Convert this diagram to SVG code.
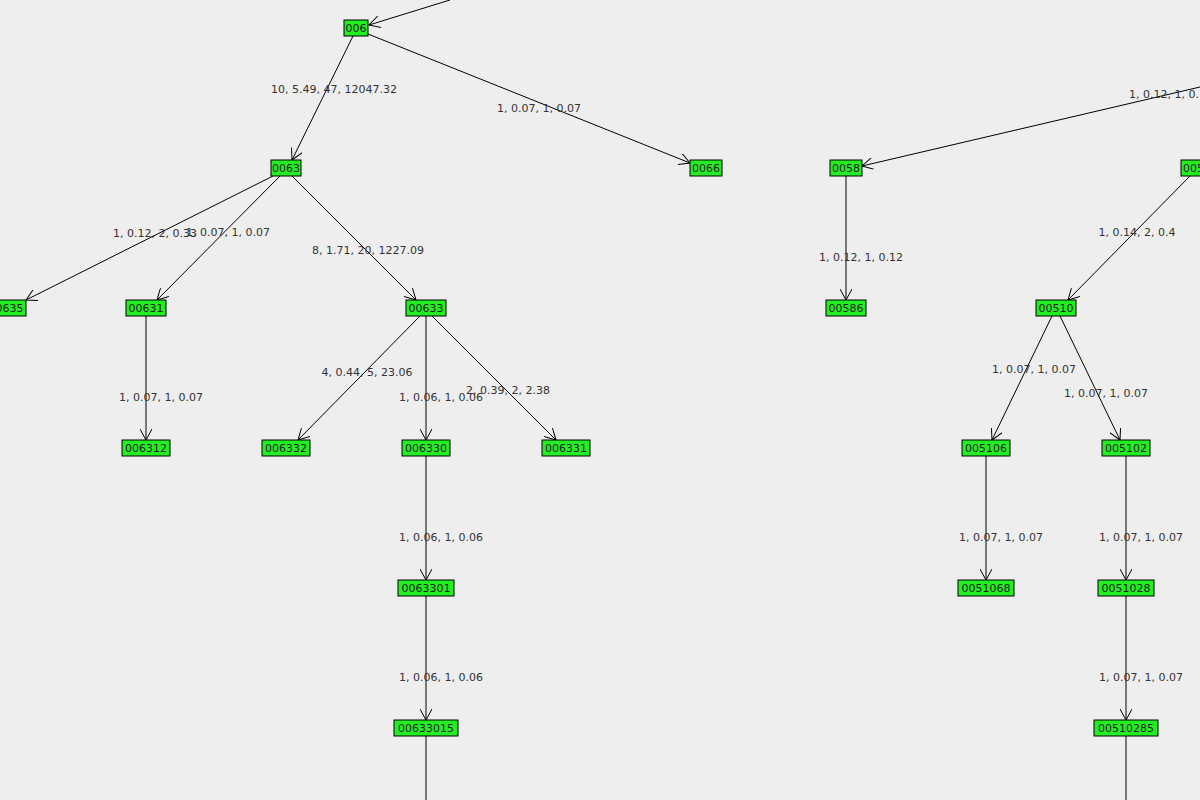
<svg xmlns="http://www.w3.org/2000/svg" width="1200" height="800" viewBox="0 0 1200 800">
<style>
.n rect{fill:#22ee22;stroke:#000;stroke-width:1}
text{font-family:"DejaVu Sans","Liberation Sans",sans-serif;font-size:11px;fill:#333;text-anchor:middle}
.n text{fill:#222}
#edges line{stroke:#000;stroke-width:1;fill:none}
</style>
<defs><marker id="a" markerWidth="14" markerHeight="12" refX="11" refY="6" orient="auto" markerUnits="userSpaceOnUse"><path d="M0,0 L11,6 L0,12" fill="none" stroke="#000"/></marker></defs>
<rect width="1200" height="800" fill="#eeeeee"/>
<g id="edges">
<line x1="450" y1="0" x2="369" y2="25" marker-end="url(#a)"/>
<line x1="353" y1="36" x2="292" y2="160" marker-end="url(#a)"/>
<line x1="368" y1="34" x2="690" y2="163" marker-end="url(#a)"/>
<line x1="273" y1="176" x2="26" y2="300" marker-end="url(#a)"/>
<line x1="280" y1="176" x2="157" y2="300" marker-end="url(#a)"/>
<line x1="292" y1="176" x2="416" y2="300" marker-end="url(#a)"/>
<line x1="146" y1="316" x2="146" y2="440" marker-end="url(#a)"/>
<line x1="420" y1="316" x2="298" y2="440" marker-end="url(#a)"/>
<line x1="426" y1="316" x2="426" y2="440" marker-end="url(#a)"/>
<line x1="432" y1="316" x2="556" y2="440" marker-end="url(#a)"/>
<line x1="426" y1="456" x2="426" y2="580" marker-end="url(#a)"/>
<line x1="426" y1="596" x2="426" y2="720" marker-end="url(#a)"/>
<line x1="426" y1="736" x2="426" y2="800"/>
<line x1="1200" y1="87" x2="862" y2="166" marker-end="url(#a)"/>
<line x1="846" y1="176" x2="846" y2="300" marker-end="url(#a)"/>
<line x1="1190" y1="176" x2="1068" y2="300" marker-end="url(#a)"/>
<line x1="1052" y1="316" x2="992" y2="440" marker-end="url(#a)"/>
<line x1="1060" y1="316" x2="1120" y2="440" marker-end="url(#a)"/>
<line x1="986" y1="456" x2="986" y2="580" marker-end="url(#a)"/>
<line x1="1126" y1="456" x2="1126" y2="580" marker-end="url(#a)"/>
<line x1="1126" y1="596" x2="1126" y2="720" marker-end="url(#a)"/>
<line x1="1126" y1="736" x2="1126" y2="800"/>
</g>
<g id="labels">
<text x="334" y="93">10, 5.49, 47, 12047.32</text>
<text x="539" y="112">1, 0.07, 1, 0.07</text>
<text x="155" y="237">1, 0.12, 2, 0.33</text>
<text x="228" y="236">1, 0.07, 1, 0.07</text>
<text x="368" y="254">8, 1.71, 20, 1227.09</text>
<text x="367" y="376">4, 0.44, 5, 23.06</text>
<text x="441" y="401">1, 0.06, 1, 0.06</text>
<text x="508" y="394">2, 0.39, 2, 2.38</text>
<text x="161" y="401">1, 0.07, 1, 0.07</text>
<text x="441" y="541">1, 0.06, 1, 0.06</text>
<text x="441" y="681">1, 0.06, 1, 0.06</text>
<text x="1129" y="98" style="text-anchor:start">1, 0.12, 1, 0.12</text>
<text x="861" y="261">1, 0.12, 1, 0.12</text>
<text x="1137" y="236">1, 0.14, 2, 0.4</text>
<text x="1034" y="373">1, 0.07, 1, 0.07</text>
<text x="1106" y="397">1, 0.07, 1, 0.07</text>
<text x="1001" y="541">1, 0.07, 1, 0.07</text>
<text x="1141" y="541">1, 0.07, 1, 0.07</text>
<text x="1141" y="681">1, 0.07, 1, 0.07</text>
</g>
<g id="n006" class="n"><rect x="344" y="20" width="24" height="16"/><text x="356" y="32">006</text></g>
<g id="n0063" class="n"><rect x="271" y="160" width="30" height="16"/><text x="286" y="172">0063</text></g>
<g id="n0066" class="n"><rect x="690" y="160" width="32" height="16"/><text x="706" y="172">0066</text></g>
<g id="n00635" class="n"><rect x="-14" y="300" width="40" height="16"/><text x="6" y="312">00635</text></g>
<g id="n00631" class="n"><rect x="126" y="300" width="40" height="16"/><text x="146" y="312">00631</text></g>
<g id="n00633" class="n"><rect x="406" y="300" width="40" height="16"/><text x="426" y="312">00633</text></g>
<g id="n006312" class="n"><rect x="122" y="440" width="48" height="16"/><text x="146" y="452">006312</text></g>
<g id="n006332" class="n"><rect x="262" y="440" width="48" height="16"/><text x="286" y="452">006332</text></g>
<g id="n006330" class="n"><rect x="402" y="440" width="48" height="16"/><text x="426" y="452">006330</text></g>
<g id="n006331" class="n"><rect x="542" y="440" width="48" height="16"/><text x="566" y="452">006331</text></g>
<g id="n0063301" class="n"><rect x="398" y="580" width="56" height="16"/><text x="426" y="592">0063301</text></g>
<g id="n00633015" class="n"><rect x="394" y="720" width="64" height="16"/><text x="426" y="732">00633015</text></g>
<g id="n0058" class="n"><rect x="830" y="160" width="32" height="16"/><text x="846" y="172">0058</text></g>
<g id="n0051" class="n"><rect x="1181" y="160" width="32" height="16"/><text x="1197" y="172">0051</text></g>
<g id="n00586" class="n"><rect x="826" y="300" width="40" height="16"/><text x="846" y="312">00586</text></g>
<g id="n00510" class="n"><rect x="1036" y="300" width="40" height="16"/><text x="1056" y="312">00510</text></g>
<g id="n005106" class="n"><rect x="962" y="440" width="48" height="16"/><text x="986" y="452">005106</text></g>
<g id="n005102" class="n"><rect x="1102" y="440" width="48" height="16"/><text x="1126" y="452">005102</text></g>
<g id="n0051068" class="n"><rect x="958" y="580" width="56" height="16"/><text x="986" y="592">0051068</text></g>
<g id="n0051028" class="n"><rect x="1098" y="580" width="56" height="16"/><text x="1126" y="592">0051028</text></g>
<g id="n00510285" class="n"><rect x="1094" y="720" width="64" height="16"/><text x="1126" y="732">00510285</text></g>
</svg>
